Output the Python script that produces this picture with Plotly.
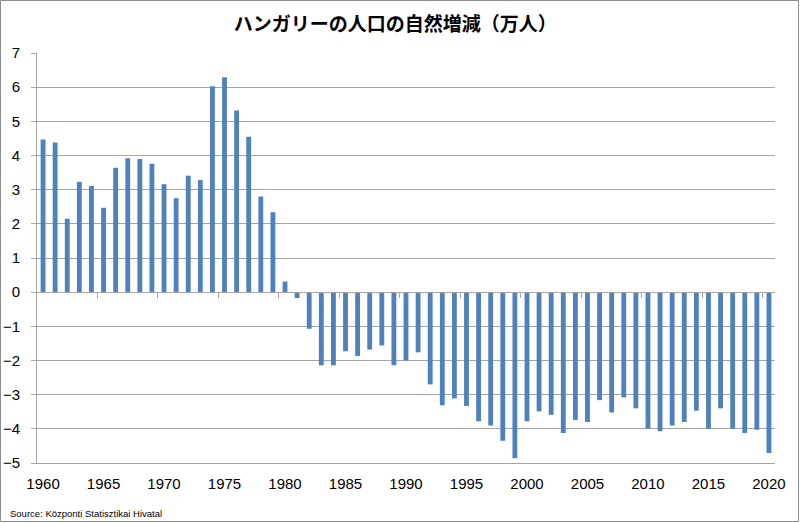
import plotly.graph_objects as go

years = list(range(1960, 2021))
values = [4.47, 4.38, 2.15, 3.23, 3.11, 2.47, 3.64, 3.92, 3.90, 3.76,
          3.16, 2.75, 3.41, 3.28, 6.03, 6.29, 5.32, 4.55, 2.80, 2.34,
          0.31, -0.17, -1.07, -2.14, -2.14, -1.73, -1.87, -1.68, -1.56, -2.14,
          -2.00, -1.76, -2.70, -3.31, -3.11, -3.33, -3.78, -3.90, -4.35, -4.86,
          -3.78, -3.49, -3.59, -4.12, -3.74, -3.80, -3.16, -3.52, -3.08, -3.40,
          -4.00, -4.07, -3.90, -3.80, -3.47, -4.00, -3.40, -4.00, -4.12, -4.03,
          -4.71]
x_label_years = list(range(1960, 2021, 5))
x_labels = [str(y) for y in x_label_years]
divider_ticks = [y + 0.5 for y in range(1964, 2020, 5)]
y_ticks = list(range(-5, 8))
title = "ハンガリーの人口の自然増減（万人）"
source = "Source: Központi Statisztikai Hivatal"

W, H = 800, 523
ML, MR, MT, MB = 37, 25, 53, 60
PW, PH = W - ML - MR, H - MT - MB

GRID = "#a5a5a5"
BAR = "#4F81BD"
FONT = "Liberation Sans"

fig = go.Figure()
fig.add_trace(go.Bar(x=years, y=values, width=0.4,
                     marker=dict(color=BAR, line=dict(width=0)),
                     hoverinfo="x+y"))
# invisible helper trace for the category-boundary axis at zero
fig.add_trace(go.Scatter(x=[years[0]], y=[0], xaxis="x2", mode="markers",
                         marker=dict(opacity=0), hoverinfo="skip",
                         showlegend=False))

fig.update_layout(
    width=W, height=H,
    margin=dict(l=ML, r=MR, t=MT, b=MB, pad=0, autoexpand=False),
    paper_bgcolor="white", plot_bgcolor="white",
    showlegend=False,
    font=dict(family=FONT, size=15, color="#000000"),
    title=dict(text=title, x=0.494, xref="container", xanchor="center",
               y=1 - 24 / H, yref="container", yanchor="middle",
               font=dict(family="Noto Sans CJK JP", size=19, color="#000000",
                         weight="bold")),
    xaxis=dict(range=[1959.5, 2020.5], tickvals=x_label_years, ticktext=x_labels,
               ticks="", showgrid=False, zeroline=False, automargin=False,
               showline=True, linecolor=GRID, linewidth=1,
               ticklabelstandoff=7,
               tickfont=dict(family=FONT, size=15, color="#000000")),
    xaxis2=dict(range=[1959.5, 2020.5], overlaying="x", anchor="free",
                position=5 / 12, side="bottom", automargin=False,
                tickvals=divider_ticks, ticks="outside", ticklen=5,
                tickcolor=GRID, tickwidth=1,
                showticklabels=False, showgrid=False, zeroline=False,
                showline=True, linecolor=GRID, linewidth=1),
    yaxis=dict(range=[-5, 7], tickvals=y_ticks, ticks="outside", ticklen=5,
               tickcolor=GRID, showgrid=True, gridcolor=GRID, gridwidth=1,
               zeroline=False, showline=True, linecolor=GRID, linewidth=1,
               ticklabelstandoff=8, automargin=False,
               tickfont=dict(family=FONT, size=15, color="#000000")),
    bargap=0.6,
)

# outer chart border
fig.add_shape(type="rect", xref="paper", yref="paper",
              x0=(0.5 - ML) / PW, x1=(W - 1.5 - ML) / PW,
              y0=-(H - 1.5 - (MT + PH)) / PH, y1=(MT + PH - 0.5) / PH,
              line=dict(color="#8c8c8c", width=1), fillcolor="rgba(0,0,0,0)")

fig.add_annotation(text=source, xref="paper", yref="paper",
                   x=(8 - ML) / PW, y=-(513 - (MT + PH)) / PH,
                   xanchor="left", yanchor="middle", showarrow=False,
                   font=dict(family=FONT, size=9.5, color="#000000"))

fig.write_html("out.html")
